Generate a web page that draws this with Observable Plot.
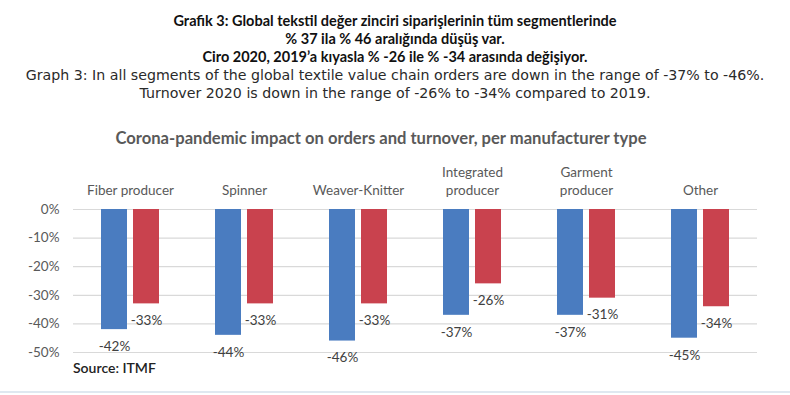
<!DOCTYPE html>
<html>
<head>
<meta charset="utf-8">
<script src="https://cdn.jsdelivr.net/npm/d3@7"></script>
<script src="https://cdn.jsdelivr.net/npm/@observablehq/plot@0.6"></script>
<style>
  body { margin: 0; background: #fff; width: 790px; height: 395px; overflow: hidden; position: relative; }
  #head { padding-top: 12px; text-align: center; color: #111; }
  #head .b { font-family: "Lato", sans-serif; font-weight: bold; font-size: 14.5px; line-height: 18px; }
  #head .r { font-family: "DejaVu Sans", sans-serif; font-weight: normal; font-size: 14.2px; line-height: 18px; color: #2a2a2a; }
  #title { position: absolute; top: 128px; left: -14px; width: 790px; text-align: center; font-family: "Lato", sans-serif; font-weight: bold; font-size: 16.6px; color: #595959; }
  #chart { position: absolute; top: 150px; left: 0; }
  #source { position: absolute; top: 359px; left: 73px; font-family: "Lato", sans-serif; font-size: 14px; color: #222; font-weight: 600; }
  #rule { position: absolute; top: 391px; left: 0; width: 790px; height: 2px; background: #dfe8f0; }
</style>
</head>
<body>
<div id="head">
  <div class="b">Grafik 3: Global tekstil değer zinciri siparişlerinin tüm segmentlerinde</div>
  <div class="b">% 37 ila % 46 aralığında düşüş var.</div>
  <div class="b">Ciro 2020, 2019’a kıyasla % -26 ile % -34 arasında değişiyor.</div>
  <div class="r">Graph 3: In all segments of the global textile value chain orders are down in the range of -37% to -46%.</div>
  <div class="r">Turnover 2020 is down in the range of -26% to -34% compared to 2019.</div>
</div>
<div id="title">Corona-pandemic impact on orders and turnover, per manufacturer type</div>
<div id="chart"></div>
<div id="source">Source: ITMF</div>
<div id="rule"></div>
<script>
const categories = ["Fiber producer", "Spinner", "Weaver-Knitter", "Integrated\nproducer", "Garment\nproducer", "Other"];
const series = ["Orders", "Turnover"];
const orders = [-42, -44, -46, -37, -37, -45];
const turnover = [-33, -33, -33, -26, -31, -34];
const yTicks = [0, -10, -20, -30, -40, -50];
const colors = ["#4a7cc0", "#c9424e"];

const data = [];
categories.forEach((c, i) => {
  data.push({category: c, series: series[0], value: orders[i]});
  data.push({category: c, series: series[1], value: turnover[i]});
});

const chart = Plot.plot({
  width: 790,
  height: 225,
  marginTop: 59,
  marginBottom: 23,
  marginLeft: 73,
  marginRight: 33,
  style: {fontFamily: "Lato, sans-serif", fontSize: "13px", color: "#595959", background: "transparent"},
  fx: {domain: categories, padding: 0, label: null},
  x: {domain: series, paddingInner: 0.2, paddingOuter: 0.85, axis: null},
  y: {domain: [-50, 0], label: null},
  color: {domain: series, range: colors},
  marks: [
    Plot.ruleY(yTicks, {stroke: "#d9d9d9", strokeWidth: 1.2}),
    Plot.axisFx({anchor: "top", tickSize: 0, tickPadding: 15, lineHeight: 1.3, fontSize: 13.5, label: null}),
    Plot.axisY({ticks: yTicks, tickFormat: d => d + "%", tickSize: 0, tickPadding: 14, fontSize: 13.5, label: null}),
    Plot.barY(data, {fx: "category", x: "series", y: "value", fill: "series"}),
    Plot.text(data, {fx: "category", x: "series", y: "value", text: d => d.value + "%", dy: 17, fill: "#404040", fontSize: 13.5})
  ]
});
document.getElementById("chart").appendChild(chart);
</script>
</body>
</html>
